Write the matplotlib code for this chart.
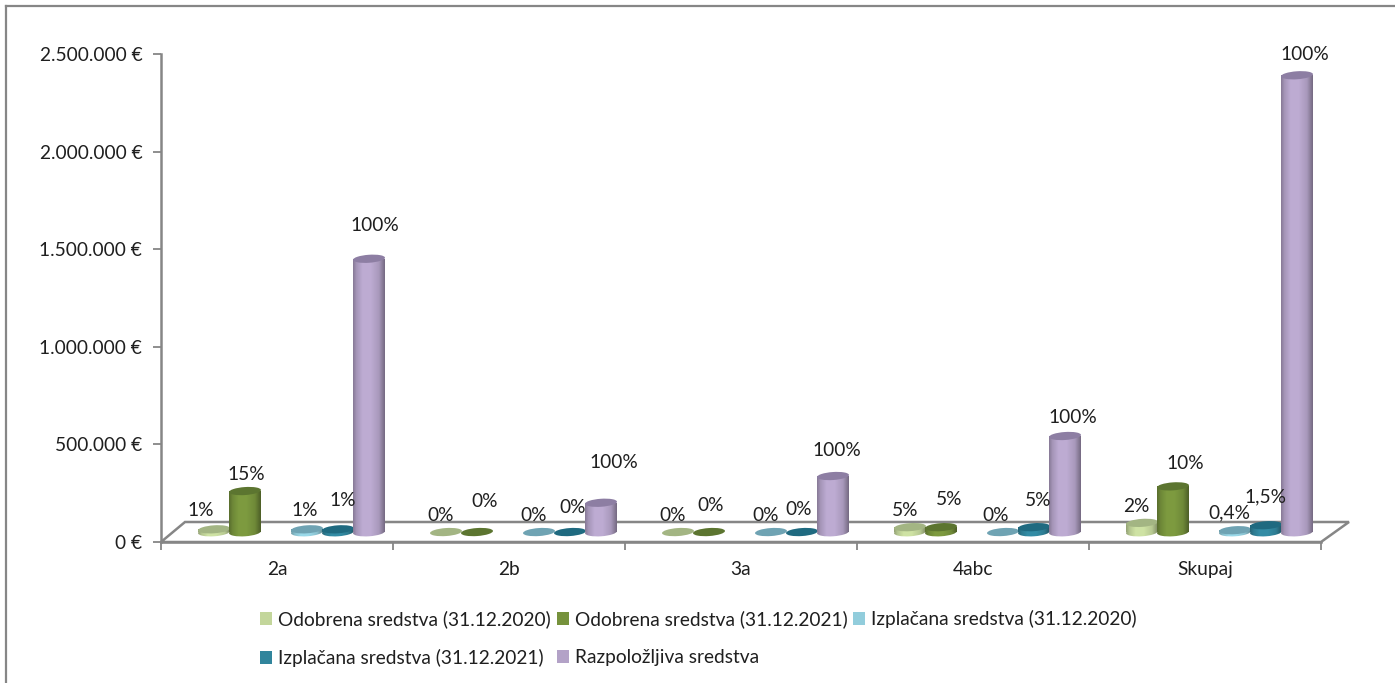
import numpy as np
import matplotlib
matplotlib.use("Agg")
import matplotlib.pyplot as plt
from matplotlib import transforms
from matplotlib.colors import to_rgb
from matplotlib.lines import Line2D
from matplotlib.patches import Ellipse, Patch, Polygon
from matplotlib.ticker import FuncFormatter

plt.rcParams['font.family'] = ['Lato', 'DejaVu Sans']

categories = ['2a', '2b', '3a', '4abc', 'Skupaj']
series_names = ['Odobrena sredstva (31.12.2020)', 'Odobrena sredstva (31.12.2021)',
                'Izplačana sredstva (31.12.2020)', 'Izplačana sredstva (31.12.2021)',
                'Razpoložljiva sredstva']
odobrena_2020 = [14000, 0, 0, 25000, 47000]
odobrena_2021 = [210000, 0, 0, 25000, 234000]
izplacana_2020 = [14000, 0, 0, 0, 9400]
izplacana_2021 = [14000, 0, 0, 25000, 35000]
razpolozljiva = [1400000, 150000, 287000, 492000, 2340000]
pct_odobrena_2020 = ['1%', '0%', '0%', '5%', '2%']
pct_odobrena_2021 = ['15%', '0%', '0%', '5%', '10%']
pct_izplacana_2020 = ['1%', '0%', '0%', '0%', '0,4%']
pct_izplacana_2021 = ['1%', '0%', '0%', '5%', '1,5%']
pct_razpolozljiva = ['100%', '100%', '100%', '100%', '100%']
yticks = [0, 500000, 1000000, 1500000, 2000000, 2500000]

# styles
values = [odobrena_2020, odobrena_2021, izplacana_2020, izplacana_2021, razpolozljiva]
pcts = [pct_odobrena_2020, pct_odobrena_2021, pct_izplacana_2020, pct_izplacana_2021, pct_razpolozljiva]
colors = ['#C3D69B', '#76923C', '#92CDDC', '#31859C', '#B3A2C7']
top_colors = ['#A3B583', '#5C7530', '#6FA3B3', '#1F6A80', '#8D7EA3']
slots = [-2, -1, 1, 2, 3]
# label offsets from the bar top, in pixels (dx, dy), per series then category
nudges = [
    [(-13, 19), (-5, 17), (-5, 17), (-5, 17), (-6, 16)],
    [(1, 17), (8, 31), (2, 27), (8, 28), (12, 23)],
    [(-2, 19), (-5, 17), (-5, 17), (-7, 17), (-6, 17)],
    [(5, 29), (3, 25), (-3, 23), (4, 27), (-1, 28)],
    [(6, 33), (13, 40), (4, 26), (8, 19), (8, 21)],
]
FW, FH = 1395, 683
L, R, T, B = 161, 1321, 54, 542
BASE = 51000
SLOT = 31 / 232
WIDTH = 32 / 232
CENTER = 0.4957
TXT = '#1f1f1f'
GRAY = '#868686'
FS = 13.8

fig = plt.figure(figsize=(FW / 100, FH / 100), dpi=100, facecolor='white')
ax = fig.add_axes([L / FW, 1 - B / FH, (R - L) / FW, (B - T) / FH])
ax.set_xlim(0, 5)
ax.set_ylim(0, 2500000)
for s in ['top', 'right']:
    ax.spines[s].set_visible(False)
for s in ['left', 'bottom']:
    ax.spines[s].set_color(GRAY)
    ax.spines[s].set_linewidth(1.8)
ax.set_yticks(yticks)
ax.yaxis.set_major_formatter(FuncFormatter(lambda v, p: f"{int(v):,}".replace(',', '.') + ' €'))
ax.tick_params(axis='y', length=6, width=1.3, color=GRAY, labelsize=FS, labelcolor=TXT, pad=7.5)
ax.set_xticks(range(6))
ax.set_xticks([i + 0.5 for i in range(5)], minor=True)
ax.set_xticklabels([''] * 6)
ax.set_xticklabels(categories, minor=True)
ax.tick_params(axis='x', which='major', length=6, width=1.3, color=GRAY)
ax.tick_params(axis='x', which='minor', length=0, labelsize=FS, labelcolor=TXT, pad=13.5)

floor_h = 20 / (B - T)
ax.add_patch(Polygon([(0, 0), (24 / (R - L), floor_h), (1 + 28 / (R - L), floor_h), (1, 0)],
                     closed=True, transform=ax.transAxes, facecolor='white',
                     edgecolor=GRAY, linewidth=1.8, clip_on=False, zorder=1))
px = transforms.IdentityTransform()


def gradient(col):
    c = np.array(to_rgb(col))
    f = np.interp(np.linspace(0, 1, 48), [0, .1, .3, .55, .82, 1], [.76, .92, 1.06, 1.06, .94, .66])
    return np.clip(c[None, :] * f[:, None], 0, 1)[None, :, :]


z = 3
for s, vals in enumerate(values):
    for c, v in enumerate(vals):
        xc = c + CENTER + slots[s] * SLOT
        bar = ax.bar(xc, v, WIDTH, bottom=BASE, color=colors[s], linewidth=0, zorder=z)[0]
        x0, y0 = ax.transData.transform((xc, BASE))
        x1, y1 = ax.transData.transform((xc, BASE + v))
        ext = (xc - WIDTH / 2, xc + WIDTH / 2, 0, BASE + v)
        if v > 0:
            low = Ellipse((x0, y0), 32, 8.5, angle=4, transform=px, facecolor='none', linewidth=0)
            ax.add_patch(low)
            low.set_zorder(z)
            im = ax.imshow(gradient(colors[s]), extent=ext, aspect='auto', zorder=z + .1, interpolation='bilinear')
            im.set_clip_path(low)
            im2 = ax.imshow(gradient(colors[s]), extent=ext, aspect='auto', zorder=z + .1, interpolation='bilinear')
            im2.set_clip_path(bar)
        ax.add_patch(Ellipse((x1, y1), 32, 8, angle=4, transform=px, facecolor=top_colors[s],
                             linewidth=0, zorder=z + .2, clip_on=False))
        dx, dy = nudges[s][c]
        ax.annotate(pcts[s][c], (xc, BASE + v), xytext=(dx * .72, dy * .72), textcoords='offset points',
                    ha='center', va='center', fontsize=FS, color=TXT, zorder=50, annotation_clip=False)
        z += 1
ax.set_xlim(0, 5)
ax.set_ylim(0, 2500000)

fig.add_artist(Line2D([6 / FW, 6 / FW], [0, 1 - 6 / FH], color=GRAY, lw=1.6))
fig.add_artist(Line2D([6 / FW, 1], [1 - 6 / FH, 1 - 6 / FH], color=GRAY, lw=1.6))

handles = [Patch(facecolor=colors[i], edgecolor='none', label=series_names[i]) for i in range(5)]
order = [0, 3, 1, 4, 2]
fig.legend([handles[i] for i in order], [series_names[i] for i in order], ncol=3, frameon=False,
           loc='upper left', bbox_to_anchor=(260 / FW, 1 - 610 / FH), borderaxespad=0, borderpad=0,
           fontsize=FS, labelcolor=TXT, handlelength=0.63, handleheight=0.63, handletextpad=0.31,
           columnspacing=0.31, labelspacing=1.1)

fig.savefig('out.png', dpi=100)
